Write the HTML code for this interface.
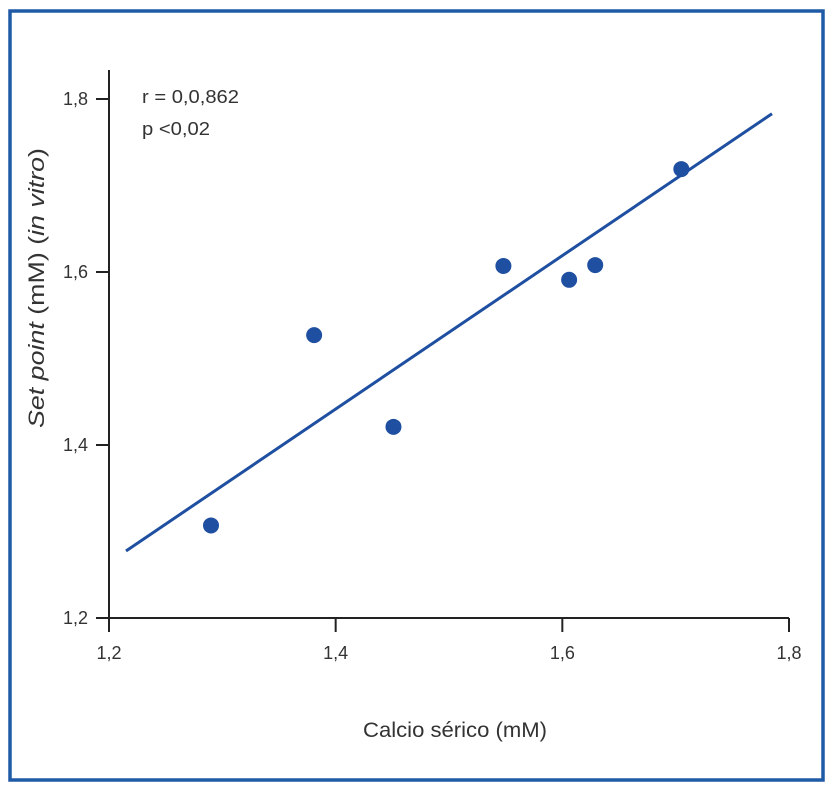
<!DOCTYPE html>
<html><head><meta charset="utf-8"><style>
html,body{margin:0;padding:0;background:#fff;}
svg{display:block;font-family:"Liberation Sans",sans-serif;}
</style></head><body>
<svg width="833" height="792" viewBox="0 0 833 792">
<rect x="10" y="11" width="813" height="769" fill="none" stroke="#1f5aa6" stroke-width="3.5"/>
<g id="axes"></g>
<g id="marks"></g>
<text x="142" y="103" font-size="18" fill="#333" textLength="97" lengthAdjust="spacingAndGlyphs">r = 0,0,862</text>
<text x="142" y="135" font-size="18" fill="#333" textLength="68" lengthAdjust="spacingAndGlyphs">p &lt;0,02</text>
<text x="363" y="737" font-size="21" fill="#333" textLength="184" lengthAdjust="spacingAndGlyphs">Calcio sérico (mM)</text>
<text transform="translate(44,428) rotate(-90)" font-size="22" fill="#333" textLength="280" lengthAdjust="spacingAndGlyphs"><tspan font-style="italic">Set point</tspan> (mM) (<tspan font-style="italic">in vitro</tspan>)</text>
</svg>
<script>
const xTicks=[1.2,1.4,1.6,1.8];
const yTicks=[1.2,1.4,1.6,1.8];
const xTickLabels=["1,2","1,4","1,6","1,8"];
const yTickLabels=["1,2","1,4","1,6","1,8"];
const xValues=[1.290,1.381,1.451,1.548,1.606,1.629,1.705];
const yValues=[1.307,1.527,1.421,1.607,1.591,1.608,1.719];
const fitX=[1.215,1.785];
const fitY=[1.2775,1.783];
const NS="http://www.w3.org/2000/svg";
const sx=v=>109+(v-1.2)/0.6*680;
const sy=v=>618-(v-1.2)/0.6*519;
function mk(t,a,p){const e=document.createElementNS(NS,t);for(const k in a)e.setAttribute(k,a[k]);p.appendChild(e);return e;}
const ax=document.getElementById('axes'),mg=document.getElementById('marks');
let e=mk('line',{x1:109,y1:70,x2:109,y2:618,stroke:'#222','stroke-width':2},ax);


e=mk('line',{x1:109,y1:618,x2:789,y2:618,stroke:'#222','stroke-width':2},ax);


xTicks.forEach((v,i)=>{
 let t=mk('line',{x1:sx(v),y1:618,x2:sx(v),y2:632,stroke:'#222','stroke-width':2},ax);
 
 
 let l=mk('text',{x:sx(v),y:659,'font-size':18,fill:'#333','text-anchor':'middle'},ax);
 l.textContent=xTickLabels[i];
 
 
});
yTicks.forEach((v,i)=>{
 let t=mk('line',{x1:96,y1:sy(v),x2:109,y2:sy(v),stroke:'#222','stroke-width':2},ax);
 
 
 let l=mk('text',{x:88,y:sy(v)+6,'font-size':18,fill:'#333','text-anchor':'end'},ax);
 l.textContent=yTickLabels[i];
 
 
});
let ln=mk('line',{x1:sx(fitX[0]),y1:sy(fitY[0]),x2:sx(fitX[1]),y2:sy(fitY[1]),stroke:'#1f4fa0','stroke-width':3},mg);


xValues.forEach((v,i)=>{
 let c=mk('circle',{cx:sx(v),cy:sy(yValues[i]),r:8,fill:'#1f4fa0'},mg);
 
 
});
</script>
</body></html>
